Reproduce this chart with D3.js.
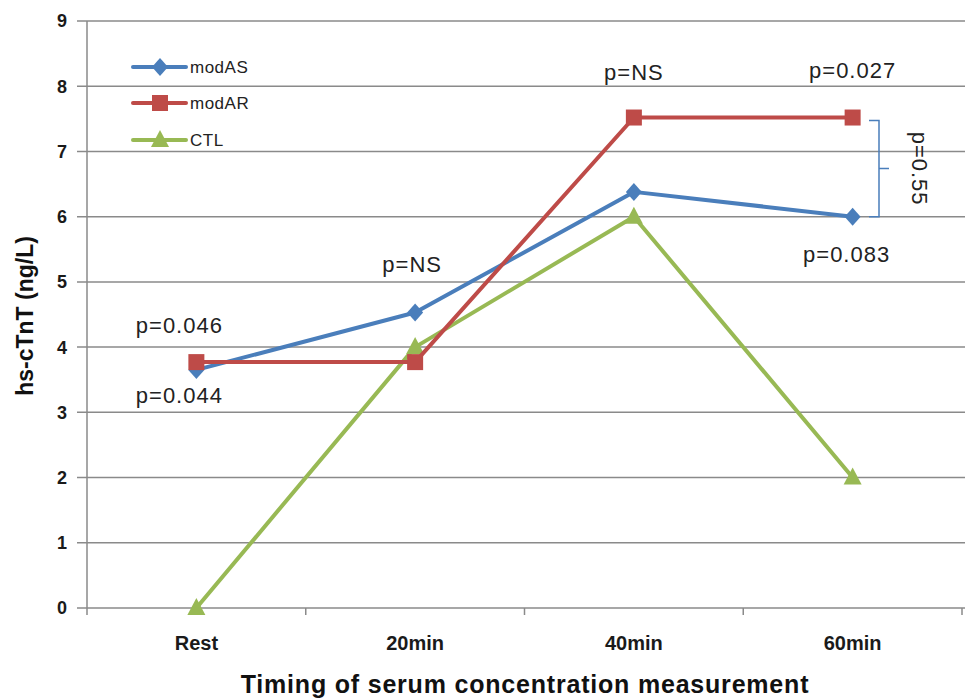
<!DOCTYPE html>
<html><head><meta charset="utf-8">
<script src="https://cdn.jsdelivr.net/npm/d3@7/dist/d3.min.js"></script>
<style>body{margin:0;background:#fff}svg{display:block}</style>
</head><body>
<svg id="c" width="965" height="699"></svg>
<script>
const categories = ["Rest","20min","40min","60min"];
const modAS = [3.65, 4.53, 6.38, 6.0];
const modAR = [3.77, 3.77, 7.52, 7.52];
const CTL = [0, 4.0, 6.0, 2.0];
const seriesNames = ["modAS","modAR","CTL"];
const yTicks = [0,1,2,3,4,5,6,7,8,9];
const annotations = [
  {text:"p=0.046", cat:"Rest", v:4.22, dx:-17},
  {text:"p=0.044", cat:"Rest", v:3.15, dx:-17},
  {text:"p=NS", cat:"20min", v:5.15, dx:-3},
  {text:"p=NS", cat:"40min", v:8.09},
  {text:"p=0.027", cat:"60min", v:8.12},
  {text:"p=0.083", cat:"60min", v:5.31, dx:-6}
];
const bracketLabel = "p=0.55";

const svg = d3.select("#c");
const FONT = "'Liberation Sans', Arial, sans-serif";
const pLeft = 87, pRight = 962, pTop = 21, pBottom = 608;
const x = d3.scaleBand().domain(categories).range([pLeft, pRight]);
const y = d3.scaleLinear().domain([0, 9]).range([pBottom, pTop]);
const colors = {modAS:"#4a7ebb", modAR:"#be4b48", CTL:"#98b954"};
const data = {modAS, modAR, CTL};

// gridlines
svg.append("g").selectAll("line").data(yTicks).join("line")
  .attr("x1", pLeft - 10).attr("x2", 965)
  .attr("y1", d => y(d)).attr("y2", d => y(d))
  .attr("stroke", "#8a8a8a").attr("stroke-width", 1.5);

// y axis line
svg.append("line").attr("x1", pLeft).attr("x2", pLeft).attr("y1", pTop).attr("y2", pBottom + 7)
  .attr("stroke", "#8a8a8a").attr("stroke-width", 1.5);
// x category ticks
const bounds = categories.map(c => x(c) + x.bandwidth());
svg.append("g").selectAll("line").data(bounds).join("line")
  .attr("x1", d => d).attr("x2", d => d).attr("y1", pBottom).attr("y2", pBottom + 7)
  .attr("stroke", "#8a8a8a").attr("stroke-width", 1.5);

// y tick labels
svg.append("g").selectAll("text").data(yTicks).join("text")
  .attr("x", 67).attr("y", d => y(d)).attr("dy", "0.36em")
  .attr("text-anchor", "end").attr("font-family", FONT).attr("font-weight", "bold")
  .attr("font-size", 18).attr("fill", "#1a1a1a").text(d => d);

// x tick labels
svg.append("g").selectAll("text").data(categories).join("text")
  .attr("x", d => x(d) + x.bandwidth()/2).attr("y", 650)
  .attr("text-anchor", "middle").attr("font-family", FONT).attr("font-weight", "bold")
  .attr("font-size", 20).attr("fill", "#1a1a1a").text(d => d);

// axis titles
svg.append("text").attr("x", 525).attr("y", 693).attr("text-anchor", "middle")
  .attr("font-family", FONT).attr("font-weight", "bold").attr("font-size", 25)
  .attr("letter-spacing", 0.8).attr("fill", "#111")
  .text("Timing of serum concentration measurement");
svg.append("text").attr("transform", "translate(33,316) rotate(-90)").attr("text-anchor", "middle")
  .attr("font-family", FONT).attr("font-weight", "bold").attr("font-size", 23).attr("fill", "#111")
  .text("hs-cTnT (ng/L)");

function marker(g, name, cx, cy) {
  const col = colors[name];
  if (name === "modAS") {
    g.append("path").attr("d", `M${cx},${cy-9}L${cx+8},${cy}L${cx},${cy+9}L${cx-8},${cy}Z`).attr("fill", col);
  } else if (name === "modAR") {
    g.append("rect").attr("x", cx-8).attr("y", cy-8).attr("width", 16).attr("height", 16).attr("fill", col);
  } else {
    g.append("path").attr("d", `M${cx},${cy-10}L${cx+9},${cy+7}L${cx-9},${cy+7}Z`).attr("fill", col);
  }
}

const line = d3.line().x((d,i) => x(categories[i]) + x.bandwidth()/2).y(d => y(d));
["CTL","modAS","modAR"].forEach(name => {
  const g = svg.append("g");
  g.append("path").datum(data[name]).attr("d", line).attr("fill", "none")
    .attr("stroke", colors[name]).attr("stroke-width", 4).attr("stroke-linejoin", "round");
  data[name].forEach((v,i) => marker(g, name, x(categories[i]) + x.bandwidth()/2, y(v)));
});

// legend
seriesNames.forEach((name, i) => {
  const ly = [67, 103, 140][i];
  const g = svg.append("g");
  g.append("line").attr("x1", 133).attr("x2", 186).attr("y1", ly).attr("y2", ly)
    .attr("stroke", colors[name]).attr("stroke-width", 4).attr("stroke-linecap", "round");
  marker(g, name, 160, ly);
  g.append("text").attr("x", 190).attr("y", ly).attr("dy", "0.36em")
    .attr("font-family", FONT).attr("font-size", 17).attr("letter-spacing", 0.5)
    .attr("fill", "#222").text(name);
});

// annotations
svg.append("g").selectAll("text").data(annotations).join("text")
  .attr("x", d => x(d.cat) + x.bandwidth()/2 + (d.dx || 0)).attr("y", d => y(d.v))
  .attr("text-anchor", "middle").attr("font-family", FONT).attr("font-size", 22)
  .attr("letter-spacing", 1).attr("fill", "#222")
  .text(d => d.text);

// bracket
const bx = 879, bTop = y(7.52) + 3, bBot = y(6.0), bMid = (bTop + bBot) / 2;
svg.append("path").attr("d",
  `M${bx-10},${bTop}L${bx},${bTop}L${bx},${bBot}L${bx-10},${bBot}M${bx},${bMid}L${bx+10},${bMid}`)
  .attr("fill", "none").attr("stroke", "#4a7ebb").attr("stroke-width", 1.5);
svg.append("text").attr("transform", `translate(912,${bMid}) rotate(90)`).attr("text-anchor", "middle")
  .attr("font-family", FONT).attr("font-size", 22).attr("letter-spacing", 1).attr("fill", "#222").text(bracketLabel);
</script>
</body></html>
